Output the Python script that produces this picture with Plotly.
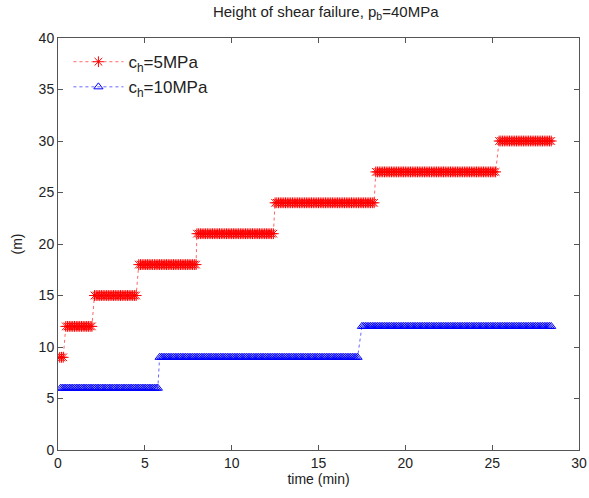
import numpy as np
import plotly.graph_objects as go

# Step data: each segment is (start time, end time, height)
red_start = [0.1, 0.45, 2.1, 4.65, 8.0, 12.5, 18.3, 25.4]
red_end = [0.3, 1.95, 4.5, 7.95, 12.4, 18.2, 25.2, 28.4]
red_level = [9, 12, 15, 18, 21, 24, 27, 30]

blue_start = [0.15, 5.85, 17.5]
blue_end = [5.75, 17.3, 28.4]
blue_level = [6, 9, 12]

sample_step = 0.1  # sampling interval (min)


def expand(starts, ends, levels):
    xs, ys = [], []
    for s, e, v in zip(starts, ends, levels):
        t = np.arange(s, e + 1e-9, sample_step)
        xs.extend(t.tolist())
        ys.extend([v] * len(t))
    return xs, ys


rx, ry = expand(red_start, red_end, red_level)
bx, by = expand(blue_start, blue_end, blue_level)

font = "Liberation Sans, Arial, sans-serif"

fig = go.Figure()
fig.add_trace(go.Scatter(
    x=rx, y=ry, mode="lines+markers", name="c<sub>h</sub>=5MPa",
    line=dict(color="rgba(255,0,0,0.6)", width=1, dash="dot"),
    marker=dict(symbol="asterisk-open", size=9, color="red",
                line=dict(color="rgba(255,0,0,0.8)", width=1)),
))
fig.add_trace(go.Scatter(
    x=bx, y=by, mode="lines+markers", name="c<sub>h</sub>=10MPa",
    line=dict(color="rgba(0,0,255,0.6)", width=1, dash="dot"),
    marker=dict(symbol="triangle-up-open", size=8, color="blue",
                line=dict(color="rgba(0,0,255,0.8)", width=1)),
))

axis_common = dict(
    showgrid=False, zeroline=False, showline=True, linecolor="#555",
    linewidth=1, mirror="ticks", ticks="inside", ticklen=5,
    tickcolor="#555", tickfont=dict(family=font, size=14, color="#222"),
    automargin=False,
)

fig.update_layout(
    width=589, height=498,
    margin=dict(l=58, r=10, t=38, b=48),
    paper_bgcolor="white", plot_bgcolor="white",
    font=dict(family=font, color="#222"),
    title=dict(text="Height of shear failure, p<sub>b</sub>=40MPa",
               x=0.553, xanchor="center", y=0.976, yanchor="middle",
               font=dict(family=font, size=15, color="#222"),
               automargin=False),
    xaxis=dict(range=[0, 30], dtick=5,
               title=dict(text="time (min)", standoff=4,
                          font=dict(family=font, size=14, color="#222")),
               **axis_common),
    yaxis=dict(range=[0, 40], dtick=5,
               title=dict(text="(m)", standoff=12,
                          font=dict(family=font, size=14, color="#222")),
               **axis_common),
    legend=dict(x=0.02, y=0.985, xanchor="left", yanchor="top",
                bgcolor="rgba(0,0,0,0)", borderwidth=0,
                font=dict(family=font, size=17, color="#222"),
                itemwidth=50, tracegroupgap=2),
    showlegend=True,
)

fig.write_html("out.html",
               config={"displayModeBar": False},
               post_script="document.body.style.margin='0';")
